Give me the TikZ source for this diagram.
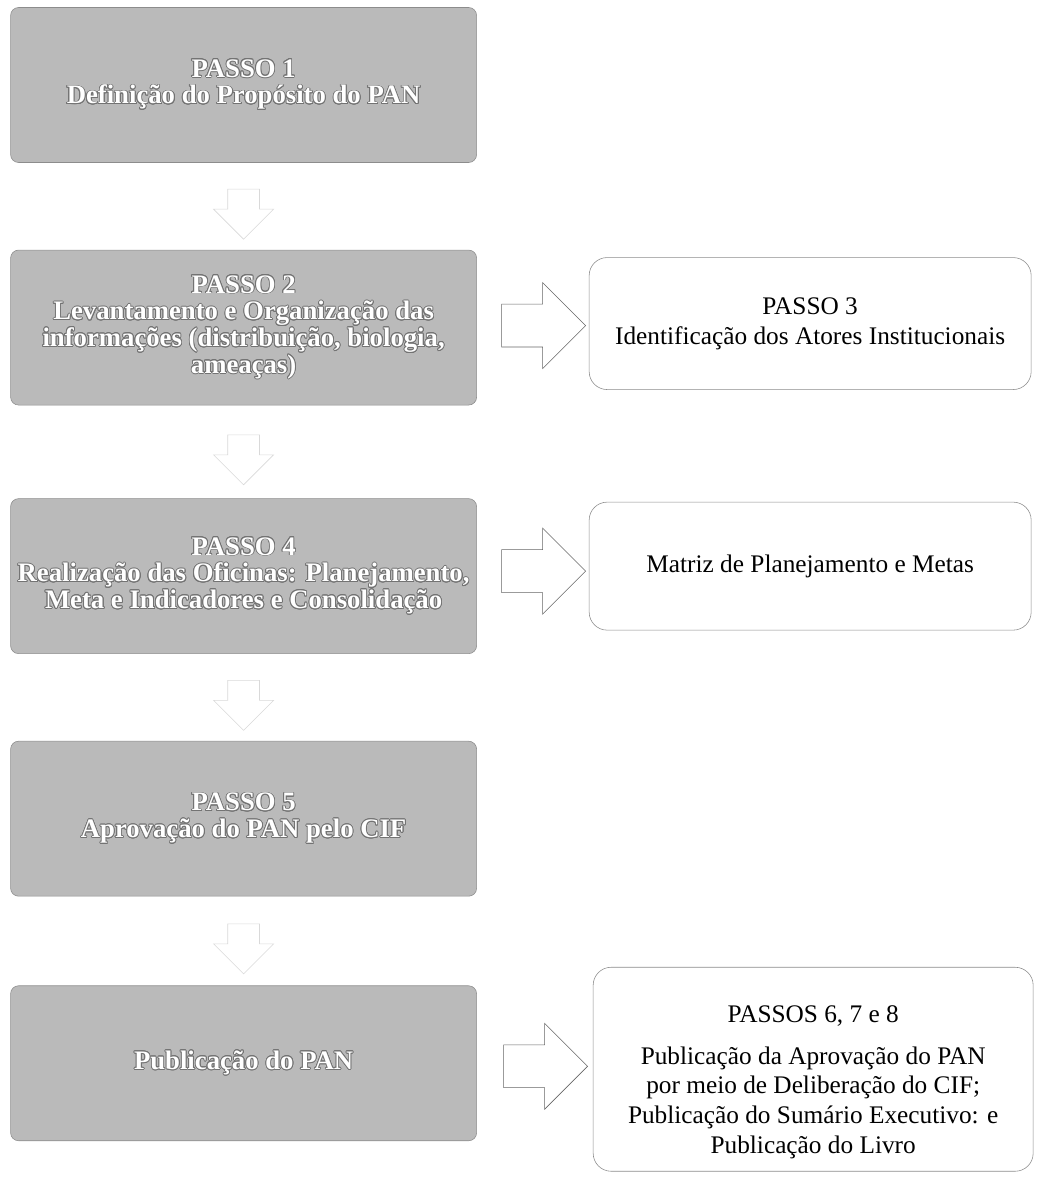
\documentclass[tikz,border=0pt]{standalone}
\usepackage{fontspec}
\setmainfont{Liberation Serif}
\usepackage[copies]{contour}
\contourlength{0.6pt}
\usetikzlibrary{positioning,shapes.arrows,calc}

% white text with a dark rim, as in the grey steps
\newcommand{\wtxt}[1]{\contour{black!55}{#1}}

\begin{document}
\begin{tikzpicture}[
    node distance=2.2cm,
    % grey main steps
    passo/.style={rectangle,rounded corners=0.2cm,draw=black!45,fill=black!27,text=white,font=\fontsize{19}{19}\selectfont\bfseries,align=center,minimum width=11.65cm,minimum height=3.875cm},
    % white result boxes
    saida/.style={rectangle,rounded corners=0.45cm,draw=black!45,fill=white,font=\fontsize{18}{21}\selectfont,align=center,minimum width=11.05cm},
    % open block arrows
    seta/.style={single arrow,draw=black!60,fill=white,inner xsep=0pt,inner ysep=0.52cm,minimum height=2.1cm,minimum width=2.15cm,single arrow head extend=0.53cm},
    setabaixo/.style={single arrow,draw=black!15,fill=white,inner xsep=0pt,inner ysep=0.33cm,minimum height=1.25cm,minimum width=1.5cm,single arrow head extend=0.3cm,rotate=-90}
]
    \useasboundingbox (0,0) rectangle (25.925,-29.45);

    % main column
    \node[passo] (passo1) at (6.09,-2.125) {\wtxt{PASSO 1}\\ \wtxt{Definição do Propósito do PAN}};
    \node[passo] (passo2) [below=2.175cm of passo1] {\wtxt{PASSO 2}\\ \wtxt{Levantamento e Organização das}\\ \wtxt{informações (distribuição, biologia,}\\ \wtxt{ameaças)}};
    \node[passo] (passo4) [below=2.325cm of passo2] {\wtxt{PASSO 4}\\ \wtxt{Realização das Oficinas: Planejamento,}\\ \wtxt{Meta e Indicadores e Consolidação}};
    \node[passo] (passo5) [below=2.175cm of passo4] {\wtxt{PASSO 5}\\ \wtxt{Aprovação do PAN pelo CIF}};
    \node[passo] (publica) [below=2.225cm of passo5] {\wtxt{Publicação do PAN}};

    % right column
    \node[saida,minimum height=3.3cm] (passo3) [right=2.8cm of passo2,yshift=0.1cm] {PASSO 3\\ Identificação dos Atores Institucionais};
    \node[saida,minimum height=3.2cm] (matriz) [right=2.8cm of passo4,yshift=0.25cm] {Matriz de Planejamento e Metas};
    \node[saida,minimum height=5.1cm,minimum width=11cm] (passos678) [right=2.9cm of publica,yshift=-0.15cm] {\rule{0pt}{30pt}PASSOS 6, 7 e 8\\[9pt] Publicação da Aprovação do PAN\\ por meio de Deliberação do CIF;\\ Publicação do Sumário Executivo: e\\ Publicação do Livro};

    % arrows
    \node[setabaixo] (s12) at ($(passo1.south)!0.5!(passo2.north)$) {};
    \node[setabaixo] (s24) at ($(passo2.south)!0.5!(passo4.north)$) {};
    \node[setabaixo] (s45) at ($(passo4.south)!0.5!(passo5.north)$) {};
    \node[setabaixo] (s5p) at ($(passo5.south)!0.5!(publica.north)$) {};
    \node[seta] (s23) at ($(passo2.east)!0.5!(passo3.west)$) {};
    \node[seta] (s4m) at ($(passo4.east)!0.5!(matriz.west)$) {};
    \node[seta] (sp6) at ($(publica.east)!0.5!(passos678.west)$) {};
\end{tikzpicture}
\end{document}
